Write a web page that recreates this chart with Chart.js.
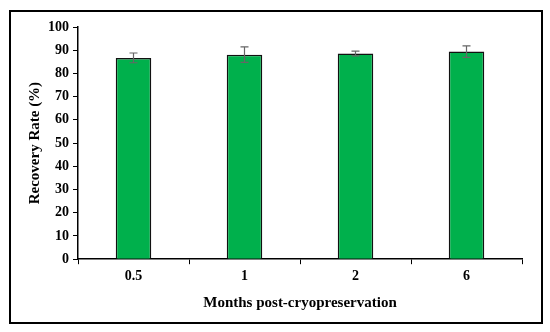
<!DOCTYPE html>
<html><head><meta charset="utf-8">
<script src="https://cdn.jsdelivr.net/npm/chart.js@4/dist/chart.umd.min.js"></script>
<style>
html,body{margin:0;padding:0;background:#fff;}
#wrap{position:relative;width:550px;height:332px;}
#frame{position:absolute;left:9px;top:10px;width:530px;height:310px;border:2px solid #000;pointer-events:none;}
canvas{position:absolute;left:0;top:0;}
</style></head>
<body>
<div id="wrap"><canvas id="c" width="550" height="332"></canvas><div id="frame"></div></div>
<script>
const categories = ["0.5", "1", "2", "6"];
const recovery = [86.7, 88.1, 88.6, 89.4];
const errors = [2.1, 3.3, 1.0, 2.5];
const yTicks = [0,10,20,30,40,50,60,70,80,90,100];

const errorBars = {
  id: 'errorBars',
  afterDatasetsDraw(chart) {
    const ctx = chart.ctx, meta = chart.getDatasetMeta(0), y = chart.scales.y;
    ctx.save();
    ctx.strokeStyle = '#666';
    ctx.lineWidth = 1.2;
    meta.data.forEach((bar, i) => {
      const x = bar.x, v = recovery[i], e = errors[i];
      const yt = y.getPixelForValue(v + e), yb = y.getPixelForValue(v - e);
      ctx.beginPath();
      ctx.moveTo(x, yt); ctx.lineTo(x, yb);
      ctx.moveTo(x - 4, yt); ctx.lineTo(x + 4, yt);
      ctx.moveTo(x - 4, yb); ctx.lineTo(x + 4, yb);
      ctx.stroke();
    });
    ctx.restore();
  }
};

new Chart(document.getElementById('c'), {
  type: 'bar',
  data: {
    labels: categories,
    datasets: [{
      data: recovery,
      backgroundColor: '#00B04C',
      borderColor: '#111',
      borderWidth: 1.5,
      barPercentage: 0.32,
      categoryPercentage: 1.0
    }]
  },
  options: {
    responsive: false,
    animation: false,
    layout: { padding: { left: 22, right: 28, top: 27, bottom: 16 } },
    plugins: { legend: { display: false }, tooltip: { enabled: false } },
    scales: {
      x: {
        grid: { display: true, drawOnChartArea: false, drawTicks: true, tickLength: 5, color: '#000', offset: true },
        border: { display: true, color: '#000', width: 1.5 },
        ticks: { color: '#000', font: { family: 'Liberation Serif', size: 14, weight: 'bold' }, padding: 4 },
        title: { display: true, text: 'Months post-cryopreservation', color: '#000', font: { family: 'Liberation Serif', size: 15, weight: 'bold' }, padding: { top: 5 } }
      },
      y: {
        min: 0, max: 100,
        afterBuildTicks: (s) => { s.ticks = yTicks.map(v => ({ value: v })); },
        grid: { display: true, drawOnChartArea: false, drawTicks: true, tickLength: 5, color: '#000' },
        border: { display: true, color: '#000', width: 1.5 },
        ticks: { color: '#000', font: { family: 'Liberation Serif', size: 14, weight: 'bold' }, padding: 4 },
        title: { display: true, text: 'Recovery Rate (%)', color: '#000', font: { family: 'Liberation Serif', size: 15, weight: 'bold' }, padding: { bottom: 0 } }
      }
    }
  },
  plugins: [errorBars]
});
</script>
</body></html>
